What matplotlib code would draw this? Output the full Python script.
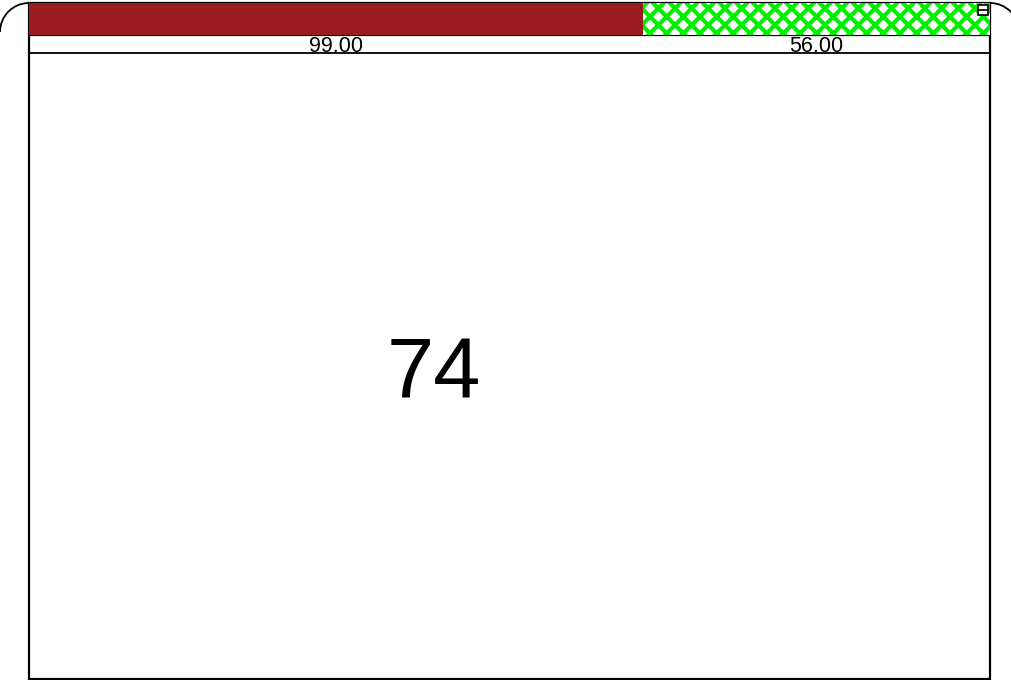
import matplotlib
matplotlib.use('Agg')
import matplotlib.pyplot as plt
from matplotlib.patches import Arc, Rectangle

plt.rcParams['font.family'] = ['Liberation Sans', 'DejaVu Sans']
plt.rcParams['hatch.linewidth'] = 3

# data
segments = ['A', 'B']
values = [99.0, 56.0]
colors = ['#9b1c20', 'white']
hatches = [None, 'xx']
edges = ['#9b1c20', '#00ee00']
big_value = 74

W, H = 1011, 680
fig = plt.figure(figsize=(W / 100, H / 100), dpi=100)

# background overlay in pixel coords (frame, corners)
bg = fig.add_axes([0, 0, 1, 1])
bg.set_xlim(0, W)
bg.set_ylim(H, 0)
bg.axis('off')
bg.add_patch(Rectangle((29, 3), 961, 676, fill=False, ec='black', lw=1.6))
bg.add_patch(Arc((29, 32), 58, 58, theta1=180, theta2=270, color='black', lw=1.3))
bg.add_patch(Arc((990, 32), 58, 58, theta1=270, theta2=360, color='black', lw=1.3))
bg.plot([29, 990], [53, 53], color='black', lw=1.3)
bg.plot([29, 990], [35, 35], color='black', lw=1.6)
bg.text(434, 375, str(big_value), fontsize=61, ha='center', va='center')

# stacked bar
ax = fig.add_axes([29 / W, (H - 35) / H, 961 / W, 32 / H])
left = 0
for v, c, h, e in zip(values, colors, hatches, edges):
    ax.barh(0, v, left=left, height=1, color=c, hatch=h, edgecolor=e, lw=0)
    bg.text(29 + (left + v / 2) / sum(values) * 961, 47, f'{v:.2f}',
            fontsize=15.5, ha='center', va='center')
    left += v
ax.set_xlim(0, sum(values))
ax.set_ylim(-0.5, 0.5)
ax.axis('off')

# small icon top-right, on top of the bar
top = fig.add_axes([0, 0, 1, 1])
top.set_xlim(0, W)
top.set_ylim(H, 0)
top.axis('off')
top.add_patch(Rectangle((978, 5), 10, 10, fc='white', ec='black', lw=1.2))
top.plot([978, 988], [10, 10], color='black', lw=1.2)

fig.savefig('out.png', dpi=100)
